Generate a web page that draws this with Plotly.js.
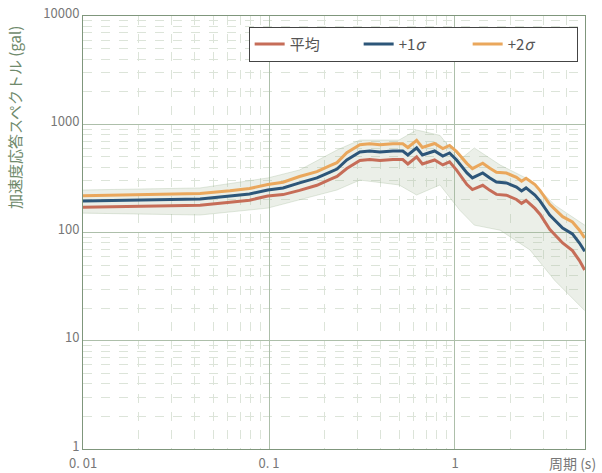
<!DOCTYPE html>
<html>
<head>
<meta charset="utf-8">
<script src="https://cdn.plot.ly/plotly-3.0.1.min.js"></script>
<style>html,body{margin:0;padding:0;background:#fff;}#chart{width:602px;height:473px;}</style>
</head>
<body>
<div id="chart"></div>
<script>
// Period (s)
const period = [0.01, 0.0229, 0.0426, 0.0617, 0.0786, 0.0985, 0.119, 0.146, 0.181, 0.213, 0.232, 0.262, 0.308, 0.348, 0.395, 0.464, 0.524, 0.558, 0.622, 0.668, 0.777, 0.860, 0.935, 1.02, 1.16, 1.24, 1.41, 1.54, 1.67, 1.89, 2.14, 2.28, 2.41, 2.69, 2.87, 3.23, 3.79, 4.28, 4.67, 4.98];
// 平均
const meanVals = [171, 175, 179, 190, 199, 217, 224, 245, 273, 309, 330, 390, 462, 472, 462, 472, 472, 430, 499, 430, 468, 421, 449, 377, 277, 249, 273, 245, 225, 221, 202, 186, 198, 167, 147, 107, 80, 68, 55, 45];
// +1σ
const plus1Vals = [195, 200, 204, 217, 227, 247, 258, 287, 319, 362, 386, 468, 554, 566, 554, 566, 566, 520, 604, 520, 566, 509, 543, 468, 355, 319, 355, 319, 293, 287, 263, 242, 258, 222, 195, 145, 110, 97, 80, 67];
// +2σ
const plus2Vals = [219, 225, 229, 243, 255, 277, 291, 329, 365, 415, 442, 546, 647, 660, 647, 660, 660, 610, 709, 610, 664, 597, 637, 558, 433, 389, 437, 392, 360, 354, 323, 298, 317, 277, 244, 182, 140, 125, 105, 89];
// envelope of individual records (grey band)
const envPeriod = [0.01, 0.0426, 0.0985, 0.146, 0.232, 0.308, 0.50, 0.622, 0.83, 1.06, 1.27, 1.75, 2.53, 3.44, 4.98];
const envUpper = [247, 258, 319, 378, 578, 715, 715, 885, 790, 468, 604, 420, 305, 179, 117];
const envLower = [151, 145, 168, 200, 247, 305, 275, 222, 275, 161, 117, 105, 69, 36, 19];

const xTickVals = [0.01, 0.1, 1];
const xTickText = ['0. 01', '0. 1', '1'];
const yTickVals = [1, 10, 100, 1000, 10000];
const yTickText = ['1', '10', '100', '1000', '10000'];

function minorVals(decades, maxV) {
  const out = [];
  decades.forEach(d => { for (let k = 2; k <= 9; k++) { const v = d * k; if (v <= maxV) out.push(v); } });
  return out;
}

const FONT = '"Noto Sans CJK JP", "Noto Sans", sans-serif';

const traces = [
  {x: envPeriod, y: envLower, mode: 'lines', line: {color: 'rgba(150,175,140,0.35)', width: 0.8}, showlegend: false, hoverinfo: 'skip'},
  {x: envPeriod, y: envUpper, mode: 'lines', fill: 'tonexty', fillcolor: 'rgba(170,190,160,0.24)', line: {color: 'rgba(150,175,140,0.35)', width: 0.8}, showlegend: false, hoverinfo: 'skip'},
  {x: period, y: meanVals, name: '平均', mode: 'lines', line: {color: '#c66d58', width: 3}},
  {x: period, y: plus1Vals, name: '+1<i>σ</i>', mode: 'lines', line: {color: '#2d5679', width: 3}},
  {x: period, y: plus2Vals, name: '+2<i>σ</i>', mode: 'lines', line: {color: '#eaa75c', width: 3}}
];

const layout = {
  width: 602, height: 473,
  margin: {l: 83, r: 17, t: 16, b: 24},
  paper_bgcolor: '#fff', plot_bgcolor: '#fff',
  font: {family: FONT, color: '#666', size: 14},
  showlegend: true,
  legend: {
    orientation: 'h', traceorder: 'normal',
    x: 0.33, xanchor: 'left', y: 0.975, yanchor: 'top',
    bgcolor: '#fff', bordercolor: '#444', borderwidth: 1,
    font: {family: FONT, size: 15, color: '#555'},
    entrywidth: 64, entrywidthmode: 'pixels', itemwidth: 30
  },
  xaxis: {
    type: 'log', range: [Math.log10(0.01), Math.log10(5)],
    tickmode: 'array', tickvals: xTickVals, ticktext: xTickText,
    showgrid: true, gridcolor: '#adbfaa', gridwidth: 1,
    showline: true, mirror: true, linecolor: '#7f967c', linewidth: 1,
    ticks: '', tickfont: {size: 13, color: '#777'}, ticklabelstandoff: 2,
    minor: {tickmode: 'array', tickvals: minorVals([0.01, 0.1, 1], 5), showgrid: true, gridcolor: '#dce4d9', griddash: 'dash', gridwidth: 1, ticks: ''},
    zeroline: false
  },
  yaxis: {
    type: 'log', range: [0, 4],
    tickmode: 'array', tickvals: yTickVals, ticktext: yTickText,
    showgrid: true, gridcolor: '#adbfaa', gridwidth: 1,
    showline: true, mirror: true, linecolor: '#7f967c', linewidth: 1,
    ticks: '', tickfont: {size: 13, color: '#777'}, ticklabelshift: -3,
    minor: {tickmode: 'array', tickvals: minorVals([1, 10, 100, 1000], 10000), showgrid: true, gridcolor: '#dce4d9', griddash: 'dash', gridwidth: 1, ticks: ''},
    zeroline: false
  },
  annotations: [
    {text: '加速度応答スペクトル (gal)', xref: 'paper', yref: 'paper', x: -0.135, y: 0.765, textangle: -90, showarrow: false, xanchor: 'center', yanchor: 'middle', font: {family: FONT, size: 15, color: '#6f8a6c'}},
    {text: '周期 (s)', xref: 'paper', yref: 'paper', x: 1.025, y: -0.032, showarrow: false, xanchor: 'right', yanchor: 'middle', font: {family: FONT, size: 14, color: '#777'}}
  ]
};

Plotly.newPlot('chart', traces, layout, {displayModeBar: false, staticPlot: true});
</script>
</body>
</html>
